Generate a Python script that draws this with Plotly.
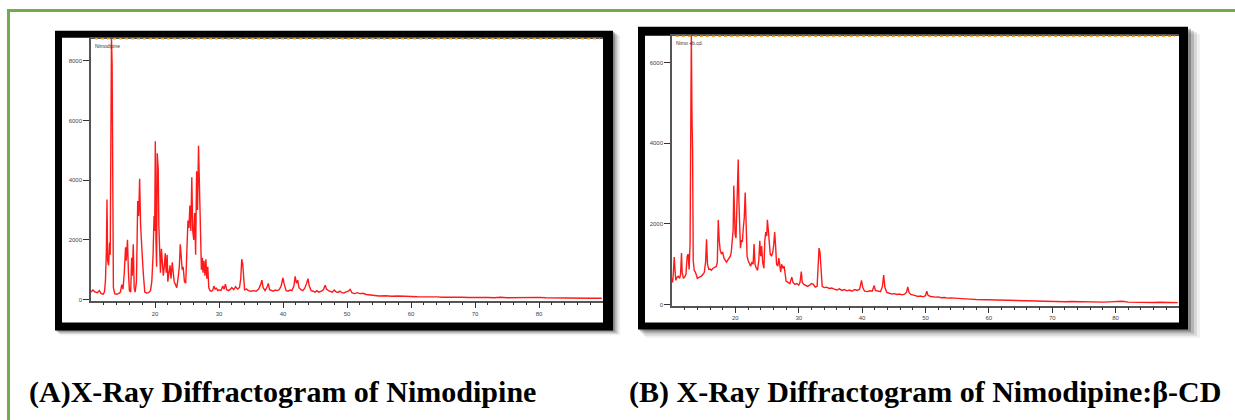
import plotly.graph_objects as go

# ---------------- data ----------------
two_theta_a = [10.0, 10.3, 10.6, 11.0, 11.3, 11.6, 11.9, 12.1, 12.25, 12.4, 12.5, 12.6, 12.75, 12.9, 13.0,
               13.1, 13.2, 13.3, 13.4, 13.5, 13.7, 14.0, 14.3, 14.6, 14.8, 15.0, 15.2, 15.4, 15.5, 15.7,
               15.85, 16.0, 16.2, 16.35, 16.45, 16.6, 16.75, 16.9, 17.1, 17.3, 17.45, 17.6, 17.75, 17.9,
               18.05, 18.2, 18.4, 18.7, 19.0, 19.3, 19.5, 19.7, 19.85, 19.95, 20.05, 20.15, 20.25, 20.35,
               20.5, 20.6, 20.7, 20.85, 21.0, 21.15, 21.3, 21.45, 21.6, 21.75, 21.9, 22.0, 22.2, 22.35,
               22.5, 22.7, 22.9, 23.0, 23.2, 23.4, 23.6, 23.8, 23.95, 24.1, 24.25, 24.4, 24.6, 24.8, 25.0,
               25.15, 25.3, 25.45, 25.6, 25.75, 25.9, 26.05, 26.2, 26.35, 26.5, 26.65, 26.8, 26.95, 27.1,
               27.25, 27.4, 27.5, 27.65, 27.8, 27.95, 28.1, 28.25, 28.4, 28.6, 28.8, 29.0, 29.2, 29.4,
               29.6, 29.8, 30.0, 30.3, 30.6, 30.8, 31.0, 31.2, 31.5, 31.8, 32.0, 32.3, 32.6, 32.9, 33.2,
               33.4, 33.55, 33.7, 33.85, 34.0, 34.3, 34.6, 35.0, 35.4, 35.8, 36.2, 36.5, 36.7, 36.9, 37.2,
               37.5, 37.7, 37.9, 38.2, 38.5, 38.8, 39.1, 39.4, 39.7, 40.0, 40.2, 40.5, 40.8, 41.1, 41.4,
               41.7, 41.9, 42.1, 42.3, 42.5, 42.8, 43.1, 43.4, 43.7, 43.9, 44.1, 44.4, 44.7, 45.0, 45.3,
               45.6, 46.0, 46.3, 46.6, 46.8, 47.1, 47.4, 47.7, 48.0, 48.3, 48.6, 48.9, 49.2, 49.5, 49.8,
               50.2, 50.5, 50.8, 51.2, 51.6, 52.0, 52.5, 53.0, 53.5, 54.0, 54.5, 55.0, 56.0, 57.0, 58.0,
               59.0, 60.0, 61.0, 62.0, 63.0, 64.0, 65.0, 66.0, 67.0, 68.0, 69.0, 70.0, 71.0, 72.0, 73.0,
               74.0, 75.0, 76.0, 77.0, 78.0, 79.0, 80.0, 81.0, 82.0, 83.0, 84.0, 85.0, 86.0, 87.0, 88.0,
               89.0, 89.8]
intensity_a = [250, 320, 260, 230, 300, 200, 180, 250, 600, 1600, 3350, 1300, 1150, 1900, 1500,
               7900, 8750, 7900, 1500, 400, 200, 180, 200, 250, 500, 350, 900, 1750, 1300, 2000,
               900, 300, 250, 1400, 800, 1850, 400, 250, 600, 3300, 2800, 4050, 2500, 1600,
               1300, 800, 250, 220, 230, 300, 600, 1500, 2800, 2300, 5300, 2000, 1100, 4900,
               4400, 2500, 1500, 900, 1700, 1200, 800, 1100, 1550, 900, 1500, 600, 900, 1150,
               700, 1250, 800, 600, 500, 400, 700, 1100, 1850, 1200, 1000, 1100, 600, 550, 1500,
               2650, 2400, 3150, 2300, 4100, 2300, 2000, 2900, 1500, 4300, 3000, 5150, 4000, 2600,
               1000, 1400, 900, 1300, 800, 1350, 700, 1100, 400, 300, 280, 300, 450, 350,
               380, 300, 330, 300, 450, 350, 520, 330, 300, 350, 400, 330, 430, 350, 400,
               700, 1350, 1200, 500, 330, 350, 300, 280, 300, 280, 350, 500, 650, 400, 300,
               420, 540, 330, 300, 280, 320, 300, 330, 450, 730, 500, 300, 280, 320, 300,
               450, 780, 550, 650, 400, 330, 300, 380, 550, 700, 450, 300, 280, 250, 300,
               250, 280, 330, 480, 350, 300, 280, 250, 320, 260, 240, 280, 230, 220, 250,
               280, 340, 220, 200, 230, 200, 210, 170, 160, 150, 130, 120, 130, 110, 120,
               100, 105, 95, 100, 85, 90, 80, 85, 75, 80, 70, 75, 65, 70, 60,
               80, 60, 65, 55, 60, 70, 75, 60, 55, 60, 50, 55, 50, 55, 45,
               50, 45]

two_theta_b = [10.0, 10.1, 10.2, 10.35, 10.5, 10.6, 10.8, 11.0, 11.2, 11.35, 11.5, 11.6, 11.8, 12.0, 12.2,
               12.4, 12.55, 12.7, 12.85, 12.95, 13.05, 13.15, 13.25, 13.35, 13.5, 13.7, 14.0, 14.3, 14.6,
               14.9, 15.1, 15.3, 15.45, 15.6, 15.8, 16.0, 16.2, 16.5, 16.8, 17.0, 17.15, 17.3, 17.45, 17.6,
               17.8, 18.0, 18.2, 18.4, 18.6, 18.8, 19.0, 19.2, 19.35, 19.5, 19.65, 19.75, 19.85, 19.95,
               20.1, 20.2, 20.3, 20.45, 20.55, 20.65, 20.8, 20.95, 21.1, 21.25, 21.4, 21.55, 21.7, 21.85,
               22.0, 22.2, 22.4, 22.6, 22.8, 22.95, 23.1, 23.3, 23.5, 23.7, 23.85, 24.0, 24.15, 24.3,
               24.5, 24.65, 24.8, 24.95, 25.05, 25.2, 25.35, 25.5, 25.7, 25.9, 26.05, 26.2, 26.35, 26.5,
               26.7, 26.85, 27.0, 27.15, 27.3, 27.5, 27.7, 27.85, 28.0, 28.3, 28.6, 28.9, 29.1, 29.4,
               29.7, 30.0, 30.2, 30.4, 30.55, 30.8, 31.1, 31.4, 31.7, 32.0, 32.3, 32.6, 32.9, 33.05,
               33.2, 33.35, 33.5, 33.7, 34.0, 34.4, 34.8, 35.2, 35.6, 36.0, 36.4, 36.8, 37.2, 37.6,
               38.0, 38.4, 38.8, 39.2, 39.6, 39.9, 40.1, 40.4, 40.8, 41.2, 41.6, 41.9, 42.1, 42.5,
               42.9, 43.2, 43.4, 43.6, 43.9, 44.3, 44.7, 45.1, 45.5, 45.9, 46.3, 46.7, 47.0, 47.2,
               47.4, 47.7, 48.0, 48.4, 48.8, 49.2, 49.6, 50.0, 50.2, 50.4, 50.8, 51.2, 51.6, 52.0,
               52.5, 53.0, 53.5, 54.0, 55.0, 56.0, 57.0, 58.0, 59.0, 60.0, 61.0, 62.0, 63.0, 64.0,
               65.0, 66.0, 67.0, 68.0, 69.0, 70.0, 71.0, 72.0, 73.0, 74.0, 75.0, 76.0, 77.0, 78.0,
               79.0, 80.0, 81.0, 82.0, 83.0, 84.0, 85.0, 86.0, 87.0, 88.0, 89.0, 89.8]
intensity_b = [650, 550, 750, 1180, 800, 600, 680, 700, 650, 750, 1280, 800, 650, 680, 750,
               1200, 1250, 870, 1500, 4700, 6700, 4700, 3800, 1100, 850, 800, 650, 680, 700,
               750, 800, 1050, 1620, 1000, 870, 880, 850, 900, 920, 950, 1050, 2100, 1600, 1350,
               1250, 1300, 1150, 1100, 1050, 1100, 1150, 1200, 1300, 1500, 1850, 2950, 2200, 1750,
               1650, 2200, 2500, 3600, 2600, 2000, 1400, 1600, 1550, 1900, 2150, 2780, 1800, 1200,
               1100, 1000, 950, 1050, 1000, 1500, 1000, 900, 850, 1100, 1580, 1200, 1450, 1050,
               900, 1600, 1800, 1700, 2100, 1850, 1400, 1250, 1200, 1300, 1480, 1800, 1450, 1000,
               950, 1150, 1000, 800, 1000, 900, 950, 700, 580, 550, 520, 680, 550, 500,
               520, 480, 550, 820, 550, 500, 470, 450, 480, 520, 500, 430, 450, 800,
               1400, 1300, 800, 450, 420, 430, 400, 410, 380, 360, 390, 350, 370, 340,
               360, 330, 370, 350, 380, 600, 420, 330, 320, 340, 330, 470, 350, 330,
               320, 450, 730, 420, 300, 280, 260, 270, 250, 260, 240, 260, 300, 440,
               300, 250, 230, 220, 200, 210, 190, 220, 330, 230, 200, 190, 185, 190,
               170, 175, 160, 165, 150, 140, 135, 125, 120, 115, 110, 105, 100, 95,
               90, 90, 85, 80, 85, 80, 75, 70, 75, 70, 65, 70, 65, 60,
               65, 70, 80, 60, 55, 60, 55, 50, 55, 50, 50, 48]

x_ticks = [20, 30, 40, 50, 60, 70, 80]
x_minor = [v for v in range(12, 90, 2) if v % 10 != 0]
y_ticks_a = [0, 2000, 4000, 6000, 8000]
y_ticks_b = [0, 2000, 4000, 6000]
captions = ["(A)X-Ray Diffractogram of Nimodipine", "(B) X-Ray Diffractogram of Nimodipine:β-CD"]
inner_labels = ["Nimodipine", "Nimo +b.cd."]

W, H = 1235, 420
def px(x):
    return x / W
def py(y):
    return 1 - y / H

RED = "#ff1a1a"
fig = go.Figure()
fig.add_trace(go.Scatter(x=two_theta_a, y=intensity_a, mode="lines",
                         line=dict(color=RED, width=1.4), xaxis="x", yaxis="y", showlegend=False))
fig.add_trace(go.Scatter(x=two_theta_b, y=intensity_b, mode="lines",
                         line=dict(color=RED, width=1.4), xaxis="x2", yaxis="y2", showlegend=False))

axis_common = dict(showgrid=False, zeroline=False, showline=True, linecolor="#555555", linewidth=1.5,
                   ticks="outside", tickcolor="#333333", tickwidth=1,
                   tickfont=dict(family="Arial, Liberation Sans", size=6, color="#444444"))
xcommon = dict(axis_common, range=[10, 90], tickmode="array", tickvals=x_ticks, ticklen=6, mirror=True,
               minor=dict(tickvals=x_minor, ticks="outside", ticklen=3, tickcolor="#333333"))

fig.update_layout(
    width=W, height=H, autosize=False,
    margin=dict(l=0, r=0, t=0, b=0),
    paper_bgcolor="white", plot_bgcolor="rgba(0,0,0,0)",
    xaxis=dict(xcommon, domain=[px(91), px(603)], anchor="y"),
    yaxis=dict(axis_common, domain=[py(302), py(39)], range=[-33, 8733], tickmode="array",
               tickvals=y_ticks_a, ticklen=6, anchor="x"),
    xaxis2=dict(xcommon, domain=[px(672), px(1179)], anchor="y2"),
    yaxis2=dict(axis_common, domain=[py(307), py(36)], range=[-25, 6667], tickmode="array",
                tickvals=y_ticks_b, ticklen=6, anchor="x2"),
)

shapes = []
def rect(x0, y0, x1, y1, fill, line_w=0, line_c=None):
    shapes.append(dict(type="rect", xref="paper", yref="paper", layer="below",
                       x0=px(x0), x1=px(x1), y0=py(y1), y1=py(y0),
                       fillcolor=fill, line=dict(width=line_w, color=line_c or fill)))

# shadows
for d, a in [(12, 0.06), (9, 0.10), (6, 0.16), (3, 0.25)]:
    rect(55 + d * 0.4, 31 + d * 0.4, 613 + d * 0.6, 332 + d * 0.4, "rgba(0,0,0,%.2f)" % a)
    rect(638 + d * 0.6, 27 + d * 0.6, 1188 + d, 331 + d * 0.7, "rgba(0,0,0,%.2f)" % a)
# black frames with white insides
rect(55, 31, 613, 332, "black")
rect(62, 38, 603, 324, "white")
rect(638, 27, 1188, 331, "black")
rect(645, 36, 1179, 324, "white")
fig.update_layout(shapes=shapes)

# green page border
fig.add_shape(type="rect", xref="paper", yref="paper", x0=px(8.5), x1=px(1250), y0=py(440), y1=py(10.5),
              line=dict(color="#70ad47", width=3), fillcolor="rgba(0,0,0,0)", layer="above")
# orange phase marks along the top of each plot
fig.add_shape(type="line", xref="paper", yref="paper", x0=px(95), x1=px(600), y0=py(39), y1=py(39),
              line=dict(color="#f0a030", width=1.5, dash="dot"), layer="above")
fig.add_shape(type="line", xref="paper", yref="paper", x0=px(676), x1=px(1175), y0=py(36.5), y1=py(36.5),
              line=dict(color="#f0a030", width=1.5, dash="dot"), layer="above")

# tiny sample labels
fig.add_annotation(x=px(93), y=py(41), xref="paper", yref="paper", text=inner_labels[0], showarrow=False,
                   xanchor="left", yanchor="top", font=dict(size=5, color="#333333", family="Arial"))
fig.add_annotation(x=px(674), y=py(38), xref="paper", yref="paper", text=inner_labels[1], showarrow=False,
                   xanchor="left", yanchor="top", font=dict(size=5, color="#333333", family="Arial"))

# captions
cap_font = dict(size=30, color="black", family="Liberation Serif, Times New Roman", weight="bold")
fig.add_annotation(x=px(27), y=py(394), xref="paper", yref="paper", text=captions[0], showarrow=False,
                   xanchor="left", yanchor="middle", font=cap_font)
fig.add_annotation(x=px(627), y=py(394), xref="paper", yref="paper", text=captions[1], showarrow=False,
                   xanchor="left", yanchor="middle", font=cap_font)

fig.write_html("out.html", config={"displayModeBar": False},
               post_script="document.body.style.margin='0';document.body.style.overflow='hidden';")
